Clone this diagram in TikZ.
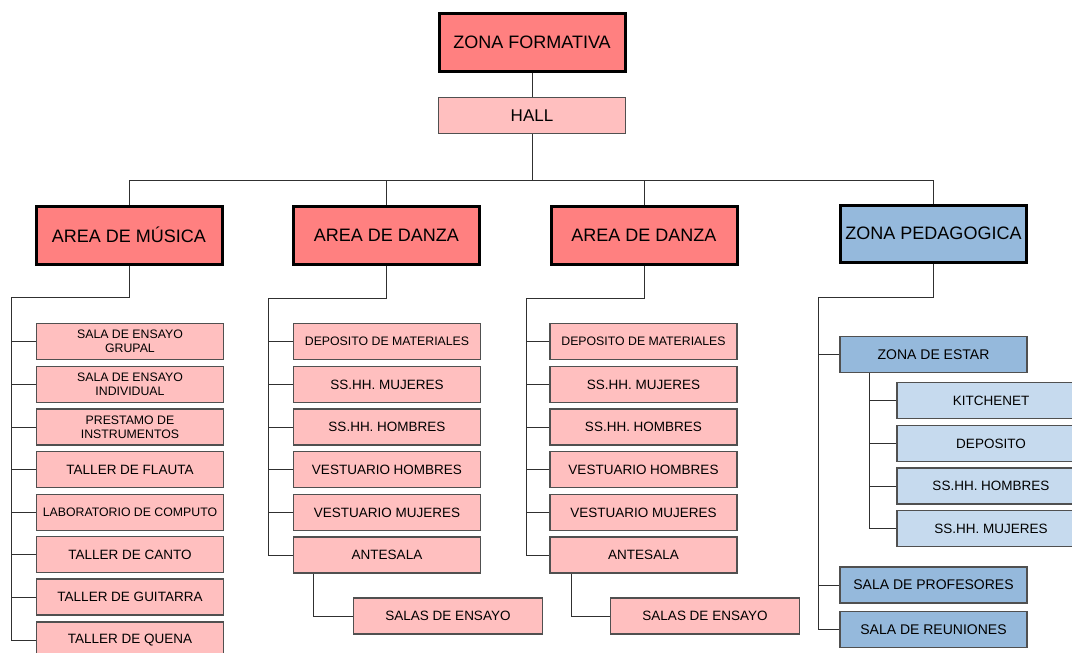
\documentclass[tikz,border=0pt]{standalone}
\usepackage{fontspec}
\setmainfont{Liberation Sans}
\definecolor{hdred}{HTML}{FF8080}
\definecolor{ltpink}{HTML}{FFBFBF}
\definecolor{hdblue}{HTML}{95B9DC}
\definecolor{ltblue}{HTML}{C6DAEE}
\definecolor{bordergray}{HTML}{505050}
\definecolor{linegray}{HTML}{303030}
\tikzset{
  head/.style={draw=black, line width=3pt, fill=hdred, minimum width=186pt, minimum height=58pt,
    inner sep=1pt, font=\fontsize{18}{20}\selectfont},
  item/.style={draw=bordergray, line width=1.1pt, fill=ltpink, minimum width=187pt, minimum height=36pt,
    inner sep=1pt, align=center, font=\fontsize{13.5}{14}\selectfont},
  small/.style={font=\fontsize{12.3}{14}\selectfont},
  bitem/.style={item, fill=hdblue, font=\fontsize{14}{15}\selectfont},
  lbitem/.style={item, fill=ltblue},
  conn/.style={draw=linegray, line width=0.9pt},
}
\begin{document}
\begin{tikzpicture}[x=1pt, y=-1pt]
\useasboundingbox (0,0) rectangle (1072,653);
\clip (0,0) rectangle (1072,653);
\fill[white] (0,0) rectangle (1072,653);

% top
\node[head] (zf) at (532,42) {ZONA FORMATIVA};
\node[item, font=\fontsize{17}{18}\selectfont] (hall) at (532,115.5) {HALL};

% headers
\node[head] (mus) at (129,235) {AREA DE MÚSICA};
\node[head] (da1) at (386.5,235) {AREA DE DANZA};
\node[head] (da2) at (644,235) {AREA DE DANZA};
\node[head, fill=hdblue, minimum height=57pt] (ped) at (933.5,233.5) {ZONA PEDAGOGICA};

% music children
\node[item, small] (m1) at (130,341.5) {SALA DE ENSAYO\\GRUPAL};
\node[item, small] (m2) at (130,384.5) {SALA DE ENSAYO\\INDIVIDUAL};
\node[item, small] (m3) at (130,427) {PRESTAMO DE\\INSTRUMENTOS};
\node[item] (m4) at (130,469.5) {TALLER DE FLAUTA};
\node[item, small] (m5) at (130,512.5) {LABORATORIO DE COMPUTO};
\node[item] (m6) at (130,554.5) {TALLER DE CANTO};
\node[item] (m7) at (130,597) {TALLER DE GUITARRA};
\node[item] (m8) at (130,640) {TALLER DE QUENA};

% danza 1 children
\node[item, small] (d11) at (387,341.5) {DEPOSITO DE MATERIALES};
\node[item] (d12) at (387,384.5) {SS.HH. MUJERES};
\node[item] (d13) at (387,427) {SS.HH. HOMBRES};
\node[item] (d14) at (387,469.5) {VESTUARIO HOMBRES};
\node[item] (d15) at (387,512.5) {VESTUARIO MUJERES};
\node[item] (a1) at (387,555) {ANTESALA};
\node[item, minimum width=189pt] (s1) at (448,616) {SALAS DE ENSAYO};

% danza 2 children
\node[item, small] (d21) at (643.5,341.5) {DEPOSITO DE MATERIALES};
\node[item] (d22) at (643.5,384.5) {SS.HH. MUJERES};
\node[item] (d23) at (643.5,427) {SS.HH. HOMBRES};
\node[item] (d24) at (643.5,469.5) {VESTUARIO HOMBRES};
\node[item] (d25) at (643.5,512.5) {VESTUARIO MUJERES};
\node[item] (a2) at (643.5,555) {ANTESALA};
\node[item, minimum width=189pt] (s2) at (705,616) {SALAS DE ENSAYO};

% pedagogica children
\node[bitem] (ze) at (933.5,354.5) {ZONA DE ESTAR};
\node[lbitem, minimum width=188pt] (p1) at (991,400.5) {KITCHENET};
\node[lbitem, minimum width=188pt] (p2) at (991,443.5) {DEPOSITO};
\node[lbitem, minimum width=188pt] (p3) at (991,486) {SS.HH. HOMBRES};
\node[lbitem, minimum width=188pt] (p4) at (991,528.5) {SS.HH. MUJERES};
\node[bitem] (pr) at (933.5,585) {SALA DE PROFESORES};
\node[bitem] (re) at (933.5,629.5) {SALA DE REUNIONES};

% connectors top
\coordinate (bus) at (532,180);
\draw[conn] (zf.south) -- (hall.north);
\draw[conn] (hall.south) -- (bus);
\draw[conn] (mus.north) |- (bus);
\draw[conn] (ped.north) |- (bus);
\draw[conn] (da1.north) -- (da1.north |- bus);
\draw[conn] (da2.north) -- (da2.north |- bus);

% music bus
\coordinate (mb) at (11,297);
\draw[conn] (mus.south) |- (mb) -- (mb |- m8.west) -- (m8.west);
\foreach \n in {m1,m2,m3,m4,m5,m6,m7}
  \draw[conn] (\n.west) -- (\n.west -| mb);

% danza 1 bus
\coordinate (d1b) at (268,298);
\draw[conn] (da1.south) |- (d1b) -- (d1b |- a1.west) -- (a1.west);
\foreach \n in {d11,d12,d13,d14,d15}
  \draw[conn] (\n.west) -- (\n.west -| d1b);
\draw[conn] ([xshift=20pt]a1.south west) |- (s1.west);

% danza 2 bus
\coordinate (d2b) at (526,298);
\draw[conn] (da2.south) |- (d2b) -- (d2b |- a2.west) -- (a2.west);
\foreach \n in {d21,d22,d23,d24,d25}
  \draw[conn] (\n.west) -- (\n.west -| d2b);
\draw[conn] ([xshift=22pt]a2.south west) |- (s2.west);

% pedagogica bus
\coordinate (pb) at (818,297);
\draw[conn] (ped.south) |- (pb) -- (pb |- re.west) -- (re.west);
\foreach \n in {ze,pr}
  \draw[conn] (\n.west) -- (\n.west -| pb);
\coordinate (zb) at ([xshift=30pt]ze.south west);
\draw[conn] (zb) |- (p4.west);
\foreach \n in {p1,p2,p3}
  \draw[conn] (\n.west) -- (\n.west -| zb);
\end{tikzpicture}
\end{document}
